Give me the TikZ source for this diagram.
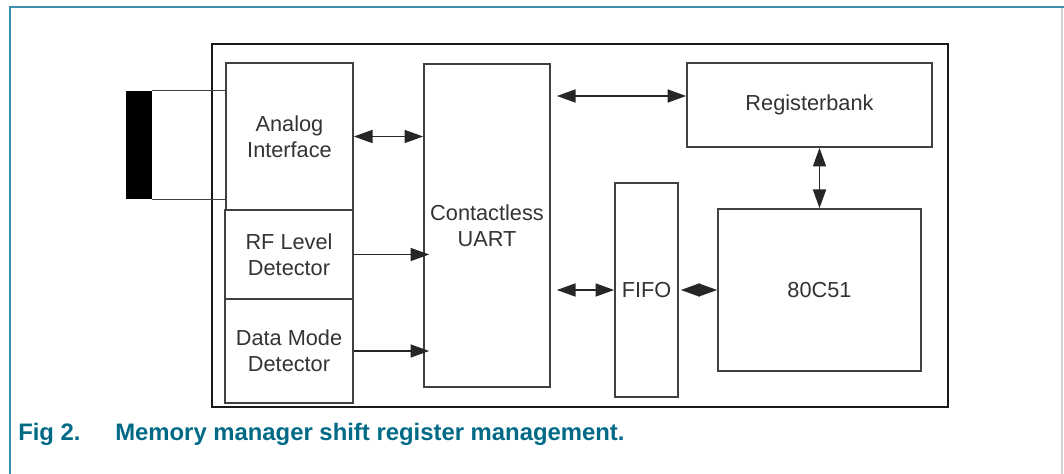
\documentclass[tikz,border=0pt]{standalone}
\usepackage{fontspec}
\setmainfont{Liberation Sans}
\usetikzlibrary{arrows.meta}
\newdimen\bpx \bpx=0.75pt
\definecolor{nxpteal}{HTML}{006A86}
\definecolor{frameteal}{HTML}{3C8FAD}
\definecolor{boxline}{HTML}{404040}
\begin{document}
\begin{tikzpicture}[x=0.75pt, y=-0.75pt,
  blk/.style={rectangle, draw=boxline, line width=1.25pt, align=center,
              inner sep=0pt, font=\fontsize{16.3}{19.8}\selectfont, text=black!80},
  >={Triangle[length=14pt, width=9.75pt]},
  arr/.style={->, line width=1.2pt, draw=black!85},
  darr/.style={<->, line width=1.2pt, draw=black!85},
  capt/.style={anchor=base west, inner sep=0pt, text=nxpteal,
               font=\fontsize{17.9}{20}\selectfont\bfseries},
]
\useasboundingbox (0,0) rectangle (1064,474);

% page frame
\draw[frameteal, line width=1.5pt] (10,474) -- (10,7) -- (1064,7);
\draw[black!18, line width=1.1pt] (1062,8) -- (1062,474);

% chip outline
\node[rectangle, draw=black!90, line width=1.5pt, minimum width=736\bpx,
      minimum height=363\bpx, inner sep=0pt] (chip) at (580,225.5) {};

% front-end blocks
\node[blk, minimum width=127\bpx, minimum height=147\bpx] (analog) at (289.5,136.5)
  {Analog\\Interface};
\node[blk, minimum width=128\bpx, minimum height=89\bpx] (rf) at (289,254.5)
  {RF Level\\Detector};
\node[blk, minimum width=128\bpx, minimum height=104\bpx] (dmd) at (289,351)
  {Data Mode\\Detector};

% antenna
\node[rectangle, fill=black, minimum width=26\bpx, minimum height=108\bpx,
      inner sep=0pt] (ant) at (139,145) {};
\draw[boxline, line width=1.1pt] (ant.north east) -- (ant.north east -| analog.west);
\draw[boxline, line width=1.1pt] (ant.south east) -- (ant.south east -| analog.west);

% core blocks
\node[blk, minimum width=126\bpx, minimum height=323\bpx] (uart) at (487,225.5)
  {Contactless\\UART};
\node[blk, minimum width=245\bpx, minimum height=84\bpx] (regbank) at (809.5,105)
  {Registerbank};
\node[blk, minimum width=63\bpx, minimum height=214\bpx] (fifo) at (646.5,290)
  {FIFO};
\node[blk, minimum width=203\bpx, minimum height=162\bpx] (mcu) at (819.5,290)
  {80C51};

% connections
\draw[darr] (analog.east) -- (analog.east -| uart.west);
\draw[arr, shorten >=-4.5pt] (rf.east) -- (rf.east -| uart.west);
\draw[arr, shorten >=-4.5pt] (dmd.east) -- (dmd.east -| uart.west);
\draw[darr, shorten >=4.5pt] ([yshift=6.75pt]regbank.west) -- ([yshift=6.75pt]regbank.west -| uart.east);
\draw[darr, shorten >=4.5pt] (fifo.west) -- (fifo.west -| uart.east);
\draw[darr, shorten <=1.5pt] (fifo.east) -- (fifo.east -| mcu.west);
\draw[darr] (mcu.north) -- (mcu.north |- regbank.south);

% caption
\node[capt] (fig) at (18,440) {Fig 2.};
\node[capt] (cap) at (115,440) {Memory manager shift register management.};
\end{tikzpicture}
\end{document}
